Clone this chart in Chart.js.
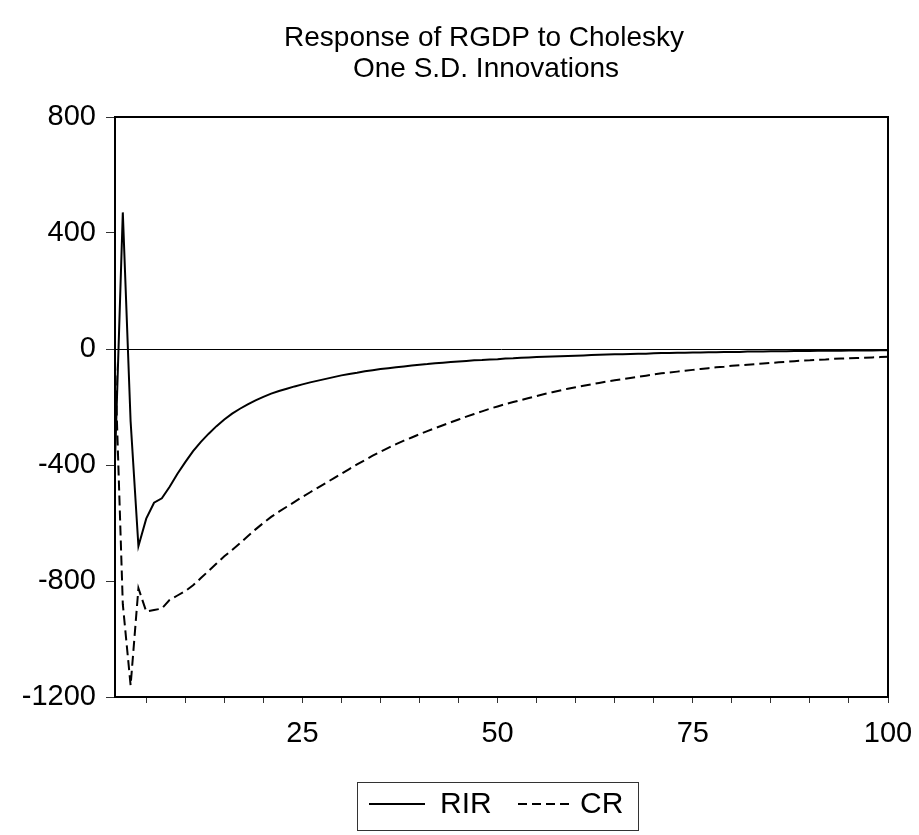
<!DOCTYPE html>
<html>
<head>
<meta charset="utf-8">
<script src="https://cdn.jsdelivr.net/npm/chart.js@4.4.1/dist/chart.umd.min.js"></script>
<style>
  html, body { margin: 0; padding: 0; background: #fff; }
  #wrap { width: 919px; height: 835px; }
</style>
</head>
<body>
<div id="wrap"><canvas id="irf" width="919" height="835"></canvas></div>
<script>
// ---- data ----
const titleLines = ["Response of RGDP to Cholesky", "One S.D. Innovations"];
const seriesNames = ["RIR", "CR"];
const yTicks = [-1200, -800, -400, 0, 400, 800];
const xLabels = [25, 50, 75, 100];

const rir = [
  -385, 471, -250, -680, -585, -530, -515, -475, -430, -390,
  -352, -320, -292, -266, -243, -223, -206, -191, -177, -165,
  -154, -145, -137, -129, -122, -115, -109, -103, -97, -91,
  -86, -82, -77, -73, -69, -66, -63, -60, -57, -54,
  -52, -49, -47, -45, -43, -41, -39, -38, -36, -35,
  -33, -32, -30, -29, -28, -27, -26, -25, -24, -23,
  -22, -21, -20, -19, -18, -18, -17, -16, -16, -15,
  -14, -14, -13, -13, -12, -12, -11, -11, -10, -10,
  -10, -9, -9, -9, -8, -8, -8, -7, -7, -7,
  -6, -6, -6, -6, -5, -5, -5, -5, -4, -4
];

const cr = [
  -40, -880, -1160, -825, -905, -900, -895, -865, -850, -835,
  -815, -790, -765, -740, -715, -693, -670, -646, -622, -600,
  -579, -561, -544, -527, -510, -494, -478, -462, -446, -430,
  -414, -398, -383, -368, -354, -341, -328, -316, -305, -294,
  -283, -273, -263, -253, -243, -233, -224, -215, -206, -198,
  -190, -183, -176, -169, -162, -155, -149, -143, -137, -132,
  -127, -122, -117, -112, -108, -104, -100, -96, -92, -88,
  -84, -81, -78, -75, -72, -69, -66, -63, -61, -58,
  -56, -54, -52, -50, -48, -46, -44, -42, -40, -39,
  -37, -36, -34, -33, -32, -31, -30, -29, -28, -27
];

const periods = rir.map((_, i) => i + 1);
const FONT = "'Liberation Sans', Arial, sans-serif";

// title, frame, zero line and boxed legend drawn by hand
const decorPlugin = {
  id: "decor",
  beforeDatasetsDraw(chart) {
    const { ctx, chartArea: a, scales } = chart;
    const y0 = scales.y.getPixelForValue(0);
    ctx.save();
    ctx.strokeStyle = "#000";
    ctx.lineWidth = 1;
    ctx.beginPath();
    ctx.moveTo(a.left, Math.round(y0) + 0.5);
    ctx.lineTo(a.right, Math.round(y0) + 0.5);
    ctx.stroke();
    ctx.restore();
  },
  afterDraw(chart) {
    const { ctx, chartArea: a } = chart;
    ctx.save();
    // frame
    ctx.strokeStyle = "#000";
    ctx.lineWidth = 2;
    ctx.strokeRect(a.left, a.top, a.right - a.left, a.bottom - a.top);

    // title
    ctx.fillStyle = "#000";
    ctx.font = "28px " + FONT;
    ctx.textAlign = "center";
    ctx.textBaseline = "middle";
    ctx.fillText(titleLines[0], 484, 38);
    ctx.fillText(titleLines[1], 486, 69);

    // legend box
    ctx.lineWidth = 1;
    ctx.strokeStyle = "#333";
    ctx.strokeRect(357.5, 782.5, 281, 48);
    const ly = 804;
    const ds = chart.data.datasets;
    ctx.lineWidth = 2;
    ctx.strokeStyle = "#000";
    ctx.beginPath(); ctx.moveTo(369, ly); ctx.lineTo(425, ly); ctx.stroke();
    ctx.setLineDash([9, 5]);
    ctx.beginPath(); ctx.moveTo(518, ly); ctx.lineTo(574, ly); ctx.stroke();
    ctx.setLineDash([]);
    ctx.font = "30px " + FONT;
    ctx.textAlign = "left";
    ctx.fillText(ds[0].label, 440, ly + 1);
    ctx.fillText(ds[1].label, 580, ly + 1);
    ctx.restore();
  }
};

new Chart(document.getElementById("irf"), {
  type: "line",
  data: {
    labels: periods,
    datasets: [
      {
        label: seriesNames[0],
        data: periods.map((p, i) => ({ x: p, y: rir[i] })),
        borderColor: "#000",
        borderWidth: 2,
        pointRadius: 0,
        tension: 0,
      },
      {
        label: seriesNames[1],
        data: periods.map((p, i) => ({ x: p, y: cr[i] })),
        borderColor: "#000",
        borderWidth: 2,
        borderDash: [10, 5],
        pointRadius: 0,
        tension: 0,
      },
    ],
  },
  options: {
    responsive: false,
    animation: false,
    devicePixelRatio: 1,
    layout: { padding: { left: 0, top: 117, right: 31, bottom: 78 } },
    plugins: {
      legend: { display: false },
      title: { display: false },
      tooltip: { enabled: false },
    },
    scales: {
      x: {
        type: "linear",
        min: 1,
        max: 100,
        afterBuildTicks: (s) => {
          const t = [];
          for (let v = 5; v <= 100; v += 5) t.push({ value: v });
          s.ticks = t;
        },
        afterFit: (s) => {
          s.height = 60;
          s.paddingLeft = 0;
          s.paddingRight = 0;
        },
        border: { display: false },
        grid: { drawOnChartArea: false, drawTicks: true, tickLength: 6, color: "#333", lineWidth: 1 },
        ticks: {
          color: "#000",
          font: { family: FONT, size: 29 },
          padding: 14,
          maxRotation: 0,
          autoSkip: false,
          callback: (v) => (xLabels.includes(v) ? String(v) : ""),
        },
      },
      y: {
        min: -1200,
        max: 800,
        afterBuildTicks: (s) => { s.ticks = yTicks.map((v) => ({ value: v })); },
        afterFit: (s) => {
          s.width = 115;
          s.paddingTop = 0;
          s.paddingBottom = 0;
        },
        border: { display: false },
        grid: { drawOnChartArea: false, drawTicks: true, tickLength: 9, color: "#333", lineWidth: 1 },
        ticks: {
          color: "#000",
          font: { family: FONT, size: 29 },
          padding: 10,
          callback: (v) => String(v),
        },
      },
    },
  },
  plugins: [decorPlugin],
});
</script>
</body>
</html>
